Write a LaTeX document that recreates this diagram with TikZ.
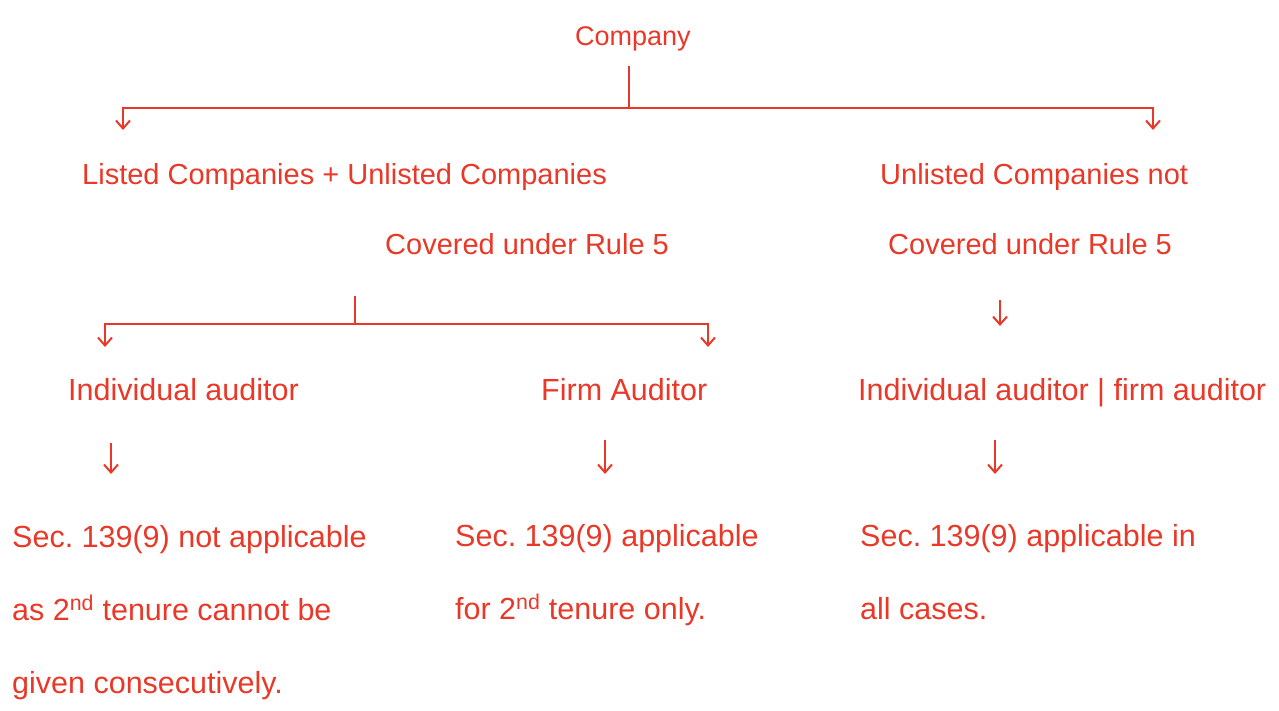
\documentclass[tikz,border=0pt]{standalone}
\usepackage{fontspec}
\setmainfont{Liberation Sans}
\usetikzlibrary{arrows.meta}

\definecolor{pen}{RGB}{234,56,40}

\begin{document}
\frenchspacing
\begin{tikzpicture}[x=1pt,y=-1pt,
    txt/.style={text=pen,inner sep=0pt,anchor=base west,align=left,
      font=\fontsize{29}{73}\selectfont},
    big/.style={font=\fontsize{30.5}{73}\selectfont},
    ln/.style={draw=pen,line width=2.4pt},
    arr/.style={draw=pen,line width=2pt,-{Straight Barb[length=8pt,width=14pt]}}]
    \useasboundingbox (0,0) rectangle (1279,710);

    % tree nodes (multi-line ones sit on their last baseline)
    \node[txt,font=\fontsize{27}{30}\selectfont] at (575,45) (Cmp) {Company};
    \node[txt] at (82,184) (LstUl) {Listed Companies + Unlisted Companies};
    \node[txt] at (385,254) (LstUlCov) {Covered under Rule 5};
    \node[txt] at (880,184) (UlNot) {Unlisted Companies not};
    \node[txt] at (888,254) (UlNotCov) {Covered under Rule 5};

    \node[txt,big] at (68,400) (IndAud) {Individual auditor};
    \node[txt,big] at (541,400) (FirmAud) {Firm Auditor};
    \node[txt,big] at (858,400) (BothAud) {Individual auditor | firm auditor};

    \node[txt,big] at (12,693) (SecInd) {Sec. 139(9) not applicable\\as 2\textsuperscript{nd} tenure cannot be\\given consecutively.};
    \node[txt,big] at (455,619) (SecFirm) {Sec. 139(9) applicable\\for 2\textsuperscript{nd} tenure only.};
    \node[txt,big] at (860,619) (SecAll) {Sec. 139(9) applicable in\\all cases.};

    % bars and free ends
    \coordinate (TopStem) at (629,66);
    \coordinate (TopBar) at (629,108);
    \coordinate (LstEnd) at (123,130);
    \coordinate (UlEnd) at (1153,130);
    \coordinate (SubStem) at (355,296);
    \coordinate (SubBar) at (355,324);
    \coordinate (IndEnd) at (105,347);
    \coordinate (FirmEnd) at (708,347);
    \coordinate (BothTop) at (1000,300);
    \coordinate (BothEnd) at (1000,326);
    \coordinate (IndTop) at (111,443);
    \coordinate (IndSec) at (111,474);
    \coordinate (FirmTop) at (605,440);
    \coordinate (FirmSec) at (605,474);
    \coordinate (AllTop) at (995,440);
    \coordinate (AllSec) at (995,474);

    \draw[ln] (TopStem) -- (TopBar);
    \draw[arr] (TopBar) -| (LstEnd);
    \draw[arr] (TopBar) -| (UlEnd);
    \draw[ln] (SubStem) -- (SubBar);
    \draw[arr] (SubBar) -| (IndEnd);
    \draw[arr] (SubBar) -| (FirmEnd);
    \draw[arr] (BothTop) -- (BothEnd);
    \draw[arr] (IndTop) -- (IndSec);
    \draw[arr] (FirmTop) -- (FirmSec);
    \draw[arr] (AllTop) -- (AllSec);
  \end{tikzpicture}
\end{document}
